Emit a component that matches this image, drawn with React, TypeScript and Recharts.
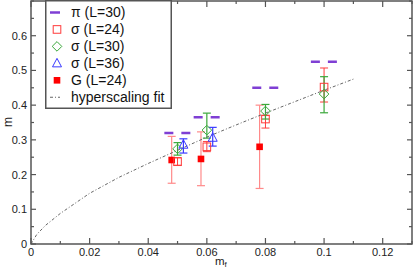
import React from 'react';
import {
  ComposedChart,
  Scatter,
  XAxis,
  YAxis,
  ErrorBar,
  ReferenceLine,
  ReferenceArea,
  Legend,
} from 'recharts';

// pi (L=30)
const piMf = [0.05, 0.06, 0.08, 0.1];
const piM = [0.32, 0.365, 0.45, 0.525];

// sigma (L=24)
const s24Mf = [0.05, 0.06, 0.08, 0.1];
const s24M = [0.237, 0.28, 0.36, 0.452];
const s24Lo = [0.227, 0.266, 0.334, 0.409];
const s24Hi = [0.249, 0.295, 0.37, 0.507];

// sigma (L=30)
const s30Mf = [0.05, 0.06, 0.08, 0.1];
const s30M = [0.274, 0.328, 0.383, 0.432];
const s30Lo = [0.256, 0.305, 0.36, 0.378];
const s30Hi = [0.292, 0.377, 0.402, 0.482];

// sigma (L=36)
const s36Mf = [0.052, 0.062];
const s36M = [0.286, 0.306];
const s36Lo = [0.262, 0.282];
const s36Hi = [0.303, 0.336];

// G (L=24)
const gMf = [0.048, 0.058, 0.078];
const gM = [0.242, 0.245, 0.28];
const gLo = [0.175, 0.168, 0.16];
const gHi = [0.31, 0.323, 0.4];

// hyperscaling fit
const fitMf = [0, 0.002, 0.005, 0.01, 0.015, 0.02, 0.03, 0.04, 0.05, 0.06, 0.07, 0.08, 0.09, 0.1, 0.11];
const fitM = [0, 0.028, 0.054, 0.088, 0.117, 0.146, 0.192, 0.232, 0.27, 0.308, 0.343, 0.377, 0.41, 0.443, 0.475];

const xTicks = [0, 0.01, 0.02, 0.03, 0.04, 0.05, 0.06, 0.07, 0.08, 0.09, 0.1, 0.11, 0.12, 0.13];
const xLabels = [0, 0.02, 0.04, 0.06, 0.08, 0.1, 0.12];
const yTicks = [0, 0.05, 0.1, 0.15, 0.2, 0.25, 0.3, 0.35, 0.4, 0.45, 0.5, 0.55, 0.6, 0.65, 0.7];
const yLabels = [0, 0.1, 0.2, 0.3, 0.4, 0.5, 0.6];

const legendNames = ['π (L=30)', 'σ (L=24)', 'σ (L=30)', 'σ (L=36)', 'G (L=24)', 'hyperscaling fit'];

const FONT = '"Liberation Sans", Arial, Helvetica, sans-serif';
const AXIS = '#555';
const PURPLE = '#7f3fd4';
const RED = '#ff3b3b';
const PINK = '#ff8a8a';
const GREEN = '#3aa83a';
const BLUE = '#3a3aff';
const FIT = '#666';

const PLOT_T = 1;
const PLOT_W = 381;

const withErr = (mf: number[], m: number[], lo: number[], hi: number[]) =>
  mf.map((x, i) => ({ x, y: m[i], err: [m[i] - lo[i], hi[i] - m[i]] }));

const s24Data = withErr(s24Mf, s24M, s24Lo, s24Hi);
const s30Data = withErr(s30Mf, s30M, s30Lo, s30Hi);
const s36Data = withErr(s36Mf, s36M, s36Lo, s36Hi);
const gData = withErr(gMf, gM, gLo, gHi);
const fitData = fitMf.map((x, i) => ({ x, y: fitM[i] }));

const isIn = (list: number[], v: number) => list.some((l) => Math.abs(l - v) < 1e-9);

function XTick(props: any) {
  const { x, y, payload } = props;
  const major = isIn(xLabels, payload.value);
  const len = major ? 6 : 3;
  return (
    <g>
      <line x1={x} x2={x} y1={y} y2={y - len} stroke={AXIS} strokeWidth={1.2} />
      <line x1={x} x2={x} y1={PLOT_T} y2={PLOT_T + len} stroke={AXIS} strokeWidth={1.2} />
      {major && (
        <text x={x} y={y + 12} textAnchor="middle" fontSize={11} fontFamily={FONT} fill="#222">
          {String(payload.value)}
        </text>
      )}
    </g>
  );
}

function YTick(props: any) {
  const { x, y, payload } = props;
  const major = isIn(yLabels, payload.value);
  const len = major ? 5 : 3;
  return (
    <g>
      <line x1={x} x2={x + len} y1={y} y2={y} stroke={AXIS} strokeWidth={1.2} />
      <line x1={x + PLOT_W} x2={x + PLOT_W - len} y1={y} y2={y} stroke={AXIS} strokeWidth={1.2} />
      {major && (
        <text x={x - 4} y={y + 4} textAnchor="end" fontSize={11} fontFamily={FONT} fill="#222">
          {String(payload.value)}
        </text>
      )}
    </g>
  );
}

const OpenSquare = (p: any) => (
  <rect x={p.cx - 3.8} y={p.cy - 3.8} width={7.6} height={7.6} fill="none" stroke={RED} strokeWidth={1} />
);
const FilledSquare = (p: any) => (
  <rect x={p.cx - 3.3} y={p.cy - 3.3} width={6.6} height={6.6} fill="#ff0000" />
);
const Diamond = (p: any) => (
  <polygon
    points={`${p.cx},${p.cy - 4.8} ${p.cx + 4.8},${p.cy} ${p.cx},${p.cy + 4.8} ${p.cx - 4.8},${p.cy}`}
    fill="none"
    stroke={GREEN}
    strokeWidth={1}
  />
);
const Triangle = (p: any) => (
  <polygon
    points={`${p.cx},${p.cy - 5} ${p.cx + 4.5},${p.cy + 3.5} ${p.cx - 4.5},${p.cy + 3.5}`}
    fill="none"
    stroke={BLUE}
    strokeWidth={1}
  />
);
const NoShape = () => null;

function LegendBox() {
  const cx = 12;
  const tx = 26;
  const rows = legendNames.map((_, i) => 12.5 + i * 16.95);
  return (
    <svg width={127} height={109} style={{ display: 'block' }}>
      <rect x={0.75} y={0.75} width={125.5} height={107.5} fill="#fff" stroke={AXIS} strokeWidth={1.5} />
      <line x1={cx - 7} x2={cx + 3} y1={rows[0]} y2={rows[0]} stroke={PURPLE} strokeWidth={2.5} />
      <rect x={cx - 3.8} y={rows[1] - 3.8} width={7.6} height={7.6} fill="none" stroke={RED} />
      <polygon
        points={`${cx},${rows[2] - 4.8} ${cx + 4.8},${rows[2]} ${cx},${rows[2] + 4.8} ${cx - 4.8},${rows[2]}`}
        fill="none"
        stroke={GREEN}
      />
      <polygon
        points={`${cx},${rows[3] - 5} ${cx + 4.5},${rows[3] + 3.5} ${cx - 4.5},${rows[3] + 3.5}`}
        fill="none"
        stroke={BLUE}
      />
      <rect x={cx - 3.3} y={rows[4] - 3.3} width={6.6} height={6.6} fill="#ff0000" />
      <line x1={cx - 7} x2={cx + 3} y1={rows[5]} y2={rows[5]} stroke={FIT} strokeWidth={1} strokeDasharray="3 2 1 2" />
      {legendNames.map((name, i) => (
        <text key={name} x={tx} y={rows[i] + 4.5} fontSize={14} fontFamily={FONT} fill="#111">
          {name}
        </text>
      ))}
    </svg>
  );
}

export default function App() {
  return (
    <div style={{ position: 'absolute', left: 0, top: 0, width: 414, height: 273, background: '#fff' }}>
      <ComposedChart width={414} height={273} margin={{ top: 1, right: 2, left: 0, bottom: 0 }}>
        <XAxis
          type="number"
          dataKey="x"
          domain={[0, 0.13]}
          ticks={xTicks}
          interval={0}
          allowDataOverflow
          axisLine={false}
          tickLine={false}
          tickSize={0}
          tickMargin={0}
          height={29}
          tick={<XTick />}
          label={{
            content: () => (
              <text x={215} y={265} fontSize={11.5} fontFamily={FONT} fill="#222">
                m
                <tspan fontSize={8} dy={2}>
                  f
                </tspan>
              </text>
            ),
          }}
        />
        <YAxis
          type="number"
          dataKey="y"
          domain={[0, 0.7]}
          ticks={yTicks}
          interval={0}
          allowDataOverflow
          axisLine={false}
          tickLine={false}
          tickSize={0}
          tickMargin={0}
          width={31}
          tick={<YTick />}
          label={{
            content: () => (
              <text
                x={7.5}
                y={122}
                fontSize={12}
                fontFamily={FONT}
                fill="#222"
                textAnchor="middle"
                transform="rotate(-90 7.5 122)"
                dominantBaseline="central"
              >
                m
              </text>
            ),
          }}
        />
        <ReferenceArea x1={0} x2={0.13} y1={0} y2={0.7} fill="none" stroke={AXIS} strokeWidth={1.5} />
        <Scatter
          data={fitData}
          line={{ stroke: FIT, strokeWidth: 1, strokeDasharray: '3 2 1 2' }}
          lineType="joint"
          shape={NoShape}
          isAnimationActive={false}
        />
        {piMf.map((x, i) => (
          <ReferenceLine
            key={x}
            segment={[
              { x: x - 0.0045, y: piM[i] },
              { x: x + 0.0045, y: piM[i] },
            ]}
            stroke={PURPLE}
            strokeWidth={2.5}
            strokeDasharray="9 8"
          />
        ))}
        <Scatter data={gData} shape={FilledSquare} isAnimationActive={false}>
          <ErrorBar dataKey="err" direction="y" width={4} stroke={PINK} strokeWidth={1.2} isAnimationActive={false} />
        </Scatter>
        <Scatter data={s24Data} shape={OpenSquare} isAnimationActive={false}>
          <ErrorBar dataKey="err" direction="y" width={4} stroke={RED} strokeWidth={1} isAnimationActive={false} />
        </Scatter>
        <Scatter data={s30Data} shape={Diamond} isAnimationActive={false}>
          <ErrorBar dataKey="err" direction="y" width={4} stroke={GREEN} strokeWidth={1.2} isAnimationActive={false} />
        </Scatter>
        <Scatter data={s36Data} shape={Triangle} isAnimationActive={false}>
          <ErrorBar dataKey="err" direction="y" width={4} stroke={BLUE} strokeWidth={1.2} isAnimationActive={false} />
        </Scatter>
        <Legend
          layout="vertical"
          align="center"
          verticalAlign="middle"
          content={() => <LegendBox />}
          wrapperStyle={{ left: 45, top: 0, width: 127, height: 109 }}
        />
      </ComposedChart>
    </div>
  );
}
